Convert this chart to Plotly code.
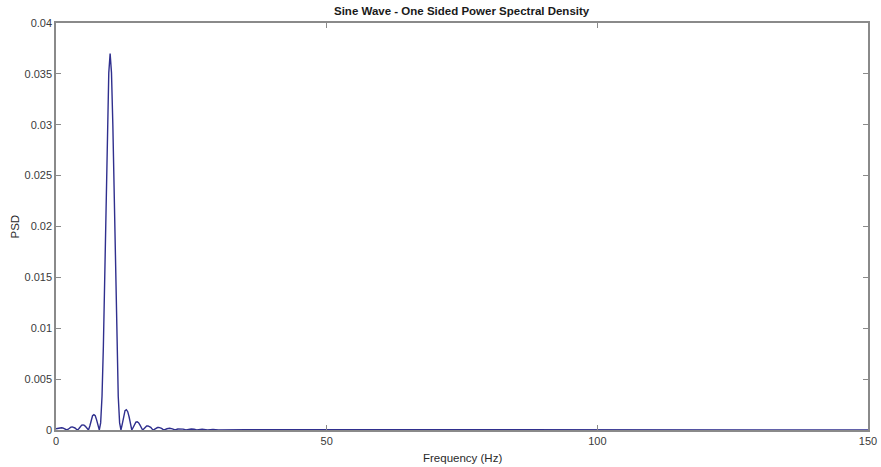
import plotly.graph_objects as go

# One-sided PSD of a 10 Hz sine, sampled values (Hz, PSD)
freq_hz = [
    0.0, 0.25, 0.5, 0.75, 1.0, 1.25, 1.5, 1.75,
    2.0, 2.25, 2.5, 2.75, 3.0, 3.25, 3.5, 3.75,
    4.0, 4.25, 4.5, 4.75, 5.0, 5.25, 5.5, 5.75,
    6.0, 6.25, 6.5, 6.75, 7.0, 7.25, 7.5, 7.75,
    8.0, 8.25, 8.5, 8.75, 9.0, 9.25, 9.5, 9.75,
    10.0, 10.25, 10.5, 10.75, 11.0, 11.25, 11.5, 11.75,
    12.0, 12.25, 12.5, 12.75, 13.0, 13.25, 13.5, 13.75,
    14.0, 14.25, 14.5, 14.75, 15.0, 15.25, 15.5, 15.75,
    16.0, 16.25, 16.5, 16.75, 17.0, 17.25, 17.5, 17.75,
    18.0, 18.25, 18.5, 18.75, 19.0, 19.25, 19.5, 19.75,
    20.0, 20.5, 21.0, 21.5, 22.0, 22.5, 23.0, 23.5,
    24.0, 24.5, 25.0, 25.5, 26.0, 27.0, 28.0, 29.0,
    30.0, 35.0, 40.0, 60.0, 80.0, 100.0, 120.0, 150.0,
]
psd = [
    0.00012, 0.00016, 0.00020, 0.00022, 0.00022, 0.00020, 0.00013, 0.00005,
    0.0, 0.00008, 0.00020, 0.00028, 0.00030, 0.00028, 0.00020, 0.00008,
    0.0, 0.00015, 0.00035, 0.00048, 0.00050, 0.00045, 0.00032, 0.00012,
    0.0, 0.00040, 0.00100, 0.00140, 0.00150, 0.00140, 0.00100, 0.00040,
    0.0, 0.00070, 0.00330, 0.00820, 0.01500, 0.02280, 0.03000, 0.03510,
    0.03700, 0.03510, 0.03000, 0.02280, 0.01500, 0.00820, 0.00330, 0.00070,
    0.0, 0.00060, 0.00140, 0.00190, 0.00200, 0.00180, 0.00130, 0.00050,
    0.0, 0.00025, 0.00058, 0.00077, 0.00080, 0.00072, 0.00050, 0.00020,
    0.0, 0.00013, 0.00030, 0.00039, 0.00040, 0.00036, 0.00026, 0.00010,
    0.0, 0.00008, 0.00018, 0.00024, 0.00025, 0.00023, 0.00016, 0.00006,
    0.0, 0.00012, 0.00017, 0.00011, 0.0, 0.00010, 0.00013, 0.00009,
    0.0, 0.00007, 0.00010, 0.00007, 0.0, 0.00008, 0.0, 0.00006,
    0.0, 0.00003, 0.00002, 0.00002, 0.00002, 0.00001, 0.00001, 0.00001,
]

x_ticks = [0, 50, 100, 150]
y_ticks = [0, 0.005, 0.01, 0.015, 0.02, 0.025, 0.03, 0.035, 0.04]
y_tick_labels = ["0", "0.005", "0.01", "0.015", "0.02", "0.025", "0.03", "0.035", "0.04"]

W, H = 881, 467
ML, MR, MT, MB = 56, 13, 23, 37
FONT = "Liberation Sans, Arial"

fig = go.Figure()
fig.add_trace(go.Scatter(
    x=freq_hz, y=psd, mode="lines",
    line=dict(color="#2f2f8e", width=1.4),
    showlegend=False, hoverinfo="skip",
))

axis_common = dict(
    showgrid=False, zeroline=False, automargin=False,
    showline=True, linecolor="#8a8a8a", linewidth=1.5,
    mirror="ticks", ticks="inside", ticklen=5, tickcolor="#8a8a8a", tickwidth=1,
    tickfont=dict(family=FONT, size=11, color="#3a3a3a"),
)

fig.update_layout(
    width=W, height=H,
    margin=dict(l=ML, r=MR, t=MT, b=MB),
    paper_bgcolor="white", plot_bgcolor="white",
    xaxis=dict(range=[0, 150], tickvals=x_ticks, **axis_common),
    yaxis=dict(range=[0, 0.04], tickvals=y_ticks, ticktext=y_tick_labels, **axis_common),
)

# Title and axis labels placed in paper pixels
plot_cx = (ML + (W - MR)) / 2
fig.add_annotation(
    text="<b>Sine Wave - One Sided Power Spectral Density</b>",
    xref="paper", yref="paper",
    x=(plot_cx - ML) / (W - ML - MR), y=1 + (MT - 11) / (H - MT - MB),
    xanchor="center", yanchor="middle", showarrow=False,
    font=dict(family=FONT, size=11.5, color="#1a1a1a"),
)
fig.add_annotation(
    text="Frequency (Hz)",
    xref="paper", yref="paper",
    x=(plot_cx - ML) / (W - ML - MR), y=-(458 - (H - MB)) / (H - MT - MB),
    xanchor="center", yanchor="middle", showarrow=False,
    font=dict(family=FONT, size=11.5, color="#2a2a2a"),
)
fig.add_annotation(
    text="PSD",
    xref="paper", yref="paper",
    x=-(ML - 14) / (W - ML - MR), y=0.5,
    xanchor="center", yanchor="middle", showarrow=False, textangle=-90,
    font=dict(family=FONT, size=11.5, color="#2a2a2a"),
)

fig.write_html("out.html")
